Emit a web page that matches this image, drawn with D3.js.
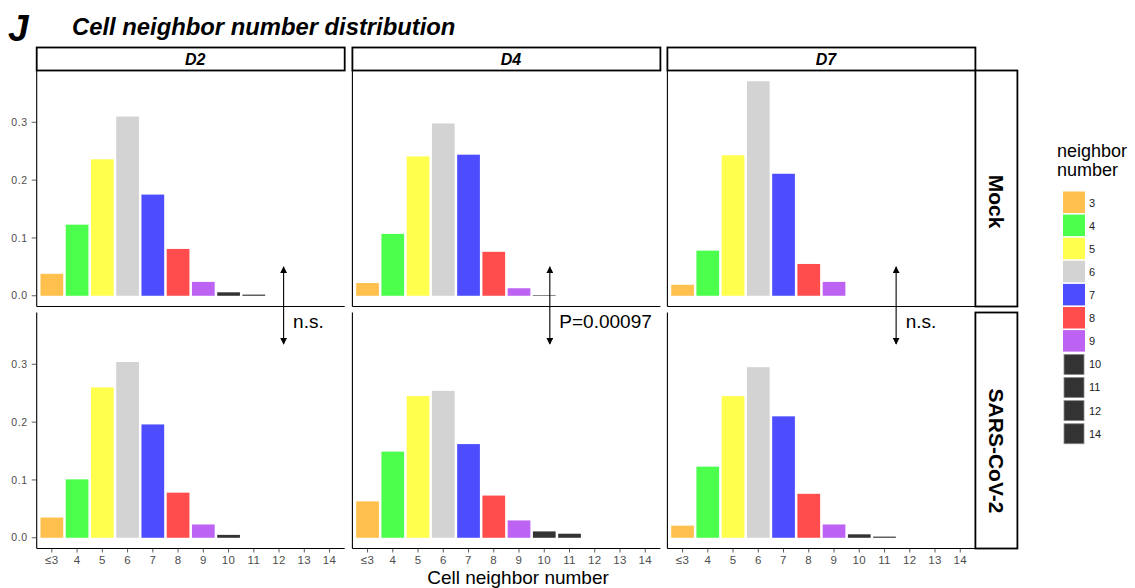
<!DOCTYPE html>
<html>
<head>
<meta charset="utf-8">
<style>
  body { margin: 0; background: #fff; }
  svg text { font-family: "Liberation Sans", Arial, sans-serif; }
</style>
</head>
<body>
<svg id="chart" width="1135" height="588"></svg>
<script src="https://d3js.org/d3.v7.min.js"></script>
<script>
// categories on the x axis and facet labels
const categories = ["≤3", "4", "5", "6", "7", "8", "9", "10", "11", "12", "13", "14"];
const days = ["D2", "D4", "D7"];
const conditions = ["Mock", "SARS-CoV-2"];

// share of cells per neighbor number
const mockD2 = [0.038, 0.123, 0.236, 0.310, 0.175, 0.081, 0.024, 0.006, 0.002, 0, 0, 0];
const mockD4 = [0.022, 0.107, 0.241, 0.298, 0.244, 0.076, 0.013, 0.001, 0, 0, 0, 0];
const mockD7 = [0.019, 0.078, 0.243, 0.371, 0.211, 0.055, 0.024, 0, 0, 0, 0, 0];
const covD2 = [0.035, 0.101, 0.260, 0.304, 0.196, 0.078, 0.023, 0.005, 0, 0, 0, 0];
const covD4 = [0.063, 0.149, 0.245, 0.254, 0.162, 0.073, 0.030, 0.011, 0.007, 0, 0, 0];
const covD7 = [0.021, 0.123, 0.245, 0.295, 0.210, 0.076, 0.023, 0.006, 0.002, 0, 0, 0];

// test result per day (Mock vs SARS-CoV-2)
const pLabels = ["n.s.", "P=0.00097", "n.s."];

const legendLabels = ["3", "4", "5", "6", "7", "8", "9", "10", "11", "12", "14"];
const yTicks = [0, 0.1, 0.2, 0.3];

const palette = ["#ffc04d", "#4dff4d", "#ffff4d", "#d3d3d3", "#4d4dff", "#ff4d4d", "#bc63f4"];
const darkFill = "#333333";
const colorOf = i => i < palette.length ? palette[i] : darkFill;

const panelValues = {
  "Mock": [mockD2, mockD4, mockD7],
  "SARS-CoV-2": [covD2, covD4, covD7]
};

const svg = d3.select("#chart");

// layout
const colX = [36.7, 352.4, 667.4];
const rowY = [70.5, 312.5];
const pw = 308, ph = 236;

const x = d3.scaleBand()
  .domain(categories)
  .range([0, pw])
  .paddingInner(0.1)
  .paddingOuter(0.15);

const ymax = d3.max([mockD2, mockD4, mockD7, covD2, covD4, covD7].flat());
const pad = ymax * 0.05;
const y = d3.scaleLinear().domain([-pad, ymax + pad]).range([ph, 0]);

// position in category units (0 = first category)
const catPos = u => x(categories[0]) + x.bandwidth() / 2 + u * x.step();

// title
svg.append("text")
  .attr("x", 8).attr("y", 41)
  .style("font-size", "37px").style("font-weight", "bold").style("font-style", "italic")
  .text("J");
svg.append("text")
  .attr("x", 72).attr("y", 34.5)
  .style("font-size", "23.8px").style("font-weight", "bold").style("font-style", "italic")
  .text("Cell neighbor number distribution");

// panels
conditions.forEach((cond, ri) => {
  days.forEach((day, ci) => {
    const g = svg.append("g").attr("transform", `translate(${colX[ci]},${rowY[ri]})`);
    const vals = panelValues[cond][ci];

    g.selectAll("rect.bar")
      .data(vals.map((v, i) => ({ cat: categories[i], v, i })).filter(d => d.v > 0))
      .enter()
      .append("rect")
      .attr("class", "bar")
      .attr("x", d => x(d.cat))
      .attr("width", x.bandwidth())
      .attr("y", d => y(d.v))
      .attr("height", d => y(0) - y(d.v))
      .attr("fill", d => colorOf(d.i));

    // axis lines
    g.append("line").attr("x1", 0).attr("x2", 0).attr("y1", 0).attr("y2", ph)
      .attr("stroke", "#000").attr("stroke-width", 1.1);
    g.append("line").attr("x1", 0).attr("x2", pw).attr("y1", ph).attr("y2", ph)
      .attr("stroke", "#000").attr("stroke-width", 1.1);

    // y ticks on first column
    if (ci === 0) {
      yTicks.forEach(t => {
        g.append("line").attr("x1", -5).attr("x2", 0).attr("y1", y(t)).attr("y2", y(t))
          .attr("stroke", "#333").attr("stroke-width", 0.8);
        g.append("text")
          .attr("x", -9).attr("y", y(t)).attr("dy", "0.35em")
          .attr("text-anchor", "end")
          .style("font-size", "10.5px").style("letter-spacing", "0.6px")
          .attr("fill", "#4d4d4d")
          .text(d3.format(".1f")(t));
      });
    }

    // x ticks on the bottom row
    if (ri === conditions.length - 1) {
      categories.forEach(c => {
        const cx = x(c) + x.bandwidth() / 2;
        g.append("line").attr("x1", cx).attr("x2", cx).attr("y1", ph).attr("y2", ph + 4)
          .attr("stroke", "#333").attr("stroke-width", 0.8);
        g.append("text")
          .attr("x", cx).attr("y", ph + 15.5)
          .attr("text-anchor", "middle")
          .style("font-size", "11.5px").style("letter-spacing", "0.4px")
          .attr("fill", "#4d4d4d")
          .text(c);
      });
    }
  });
});

// column strips
days.forEach((day, ci) => {
  svg.append("rect")
    .attr("x", colX[ci]).attr("y", 47.5).attr("width", pw).attr("height", rowY[0] - 47.5)
    .attr("fill", "#fff").attr("stroke", "#000").attr("stroke-width", 1.8);
  svg.append("text")
    .attr("x", colX[ci] + pw / 2 + 4.5).attr("y", 65)
    .attr("text-anchor", "middle")
    .style("font-size", "16px").style("font-weight", "bold").style("font-style", "italic")
    .text(day);
});

// row strips
const stripX = colX[2] + pw, stripW = 42;
const stripTextY = [201.5, 451];
conditions.forEach((cond, ri) => {
  svg.append("rect")
    .attr("x", stripX).attr("y", rowY[ri]).attr("width", stripW).attr("height", ph)
    .attr("fill", "#fff").attr("stroke", "#000").attr("stroke-width", 1.8);
  svg.append("text")
    .attr("transform", `translate(${stripX + stripW / 2},${stripTextY[ri]}) rotate(90)`)
    .attr("dy", "0.35em")
    .attr("text-anchor", "middle")
    .style("font-size", "21px").style("font-weight", "bold")
    .text(cond);
});

// x axis title
svg.append("text")
  .attr("x", 518).attr("y", 584)
  .attr("text-anchor", "middle")
  .style("font-size", "19px")
  .text("Cell neighbor number");

// comparison arrows
const defs = svg.append("defs");
defs.append("marker")
  .attr("id", "head")
  .attr("viewBox", "0 0 10 10")
  .attr("refX", 9).attr("refY", 5)
  .attr("markerWidth", 7).attr("markerHeight", 7)
  .attr("markerUnits", "userSpaceOnUse")
  .attr("orient", "auto-start-reverse")
  .append("path").attr("d", "M0,0 L10,5 L0,10 z").attr("fill", "#000");

const arrowAt = [9.18, 7.22, 8.46];
days.forEach((day, ci) => {
  const ax = colX[ci] + catPos(arrowAt[ci]);
  svg.append("line")
    .attr("x1", ax).attr("x2", ax)
    .attr("y1", rowY[0] + y(0.05)).attr("y2", rowY[1] + y(0.335))
    .attr("stroke", "#000").attr("stroke-width", 1.1)
    .attr("marker-start", "url(#head)").attr("marker-end", "url(#head)");
  svg.append("text")
    .attr("x", ax + 9.5).attr("y", 327.5)
    .style("font-size", "19px")
    .text(pLabels[ci]);
});

// legend
const lg = svg.append("g");
lg.append("text").attr("x", 1057).attr("y", 156.5).style("font-size", "18px").text("neighbor");
lg.append("text").attr("x", 1057).attr("y", 175.5).style("font-size", "18px").text("number");
legendLabels.forEach((lab, k) => {
  const cy = 202.75 + k * 23.1;
  const dark = k >= palette.length;
  const s = dark ? 20 : 22;
  lg.append("rect")
    .attr("x", 1074 - s / 2).attr("y", cy - s / 2 - (dark ? 0 : 0.25))
    .attr("width", s).attr("height", dark ? 20 : 21.5)
    .attr("fill", colorOf(k))
    .attr("stroke", dark ? "#8a8a8a" : "none").attr("stroke-width", 0.8);
  lg.append("text")
    .attr("x", 1089).attr("y", cy).attr("dy", "0.35em")
    .style("font-size", "11px").attr("fill", "#222")
    .text(lab);
});
</script>
</body>
</html>
